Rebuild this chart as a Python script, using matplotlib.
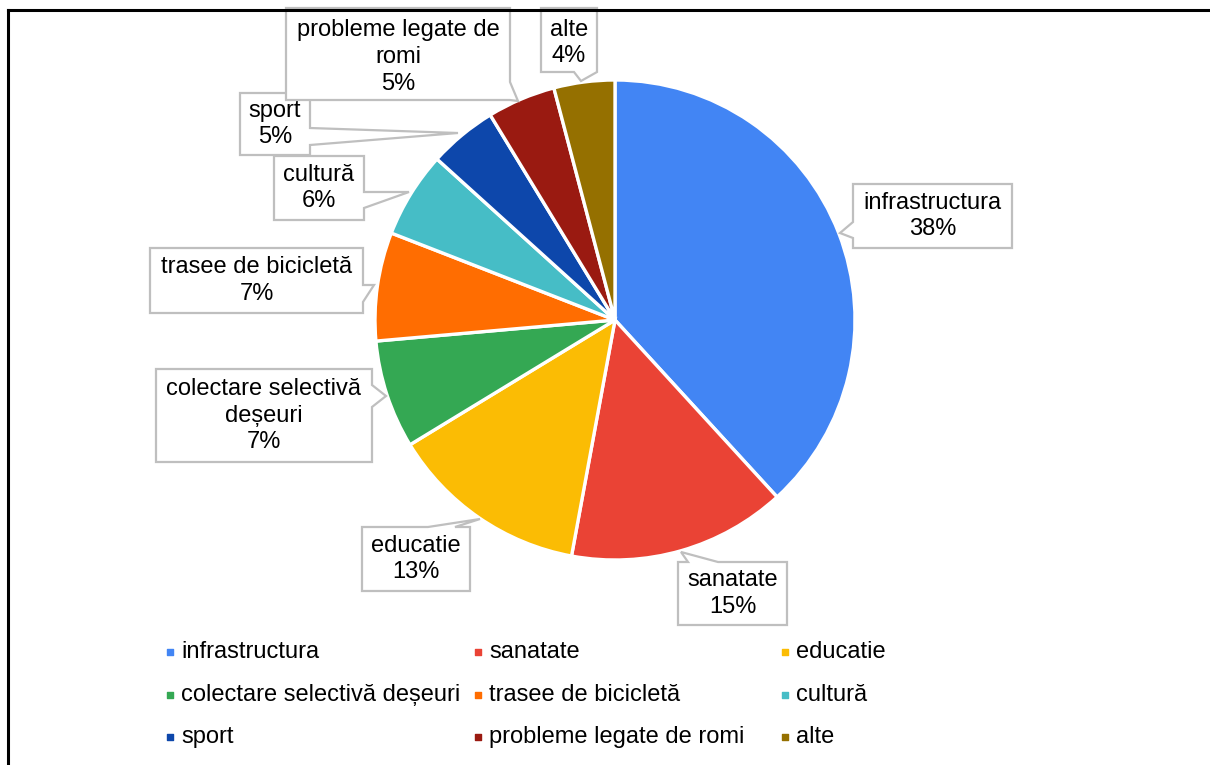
import numpy as np
import matplotlib.pyplot as plt
from matplotlib.patches import Polygon

plt.rcParams['font.family'] = ['Liberation Sans', 'DejaVu Sans']

categories = ["infrastructura", "sanatate", "educatie",
              "colectare selectivă deșeuri", "trasee de bicicletă", "cultură",
              "sport", "probleme legate de romi", "alte"]
box_labels = ["infrastructura", "sanatate", "educatie",
              "colectare selectivă\ndeșeuri", "trasee de bicicletă", "cultură",
              "sport", "probleme legate de\nromi", "alte"]
values = [38.2, 14.7, 13.4, 7.3, 7.3, 5.8, 4.6, 4.6, 4.1]
colors = ["#4285F4", "#EA4335", "#FBBC04", "#34A853", "#FF6D01", "#46BDC6",
          "#0D47AB", "#9A1A11", "#957000"]

W, H = 1210, 765
FS = 17
EDGE = "#BFBFBF"

# callout layout, pixel coords (y down): box, side of pointer, base span, tip, text centre y
callouts = [
    ((853, 184, 1012, 248), "left", (222, 238), (840, 233), None),
    ((678, 562, 787, 625), "top", (688, 718), (681, 552), None),
    ((362, 527, 470, 591), "top", (428, 455), (480, 519), None),
    ((156, 369, 372, 462), "right", (385, 407), (386, 396), None),
    ((150, 248, 363, 313), "right", (285, 302), (374, 285), None),
    ((274, 156, 364, 220), "right", (192, 208), (409, 192), None),
    ((240, 93, 310, 155), "right", (128, 145), (458, 133), None),
    ((286, 8, 510, 100), "right", (82, 100), (518, 101), 57),
    ((541, 8, 597, 72), "bottom", (574, 597), (581, 81), 43),
]


def Y(y):
    return H - y


def callout_shape(box, side, base, tip):
    x0, y0, x1, y1 = box
    a, b = base
    pts = [(x0, y0)]
    if side == "top":
        pts += [(a, y0), tip, (b, y0)]
    pts += [(x1, y0)]
    if side == "right":
        pts += [(x1, a), tip, (x1, b)]
    pts += [(x1, y1)]
    if side == "bottom":
        pts += [(b, y1), tip, (a, y1)]
    pts += [(x0, y1)]
    if side == "left":
        pts += [(x0, b), tip, (x0, a)]
    return [(px, Y(py)) for px, py in pts]


fig = plt.figure(figsize=(W / 100, H / 100), dpi=100)
ax = fig.add_axes([0, 0, 1, 1])

ax.pie(values, colors=colors, startangle=90, counterclock=False,
       center=(615, Y(320)), radius=240,
       wedgeprops=dict(edgecolor="white", linewidth=2.4))

pcts = np.floor(np.array(values) / sum(values) * 100 + 0.5).astype(int)
for (box, side, base, tip, ty), lab, p in zip(callouts, box_labels, pcts):
    ax.add_patch(Polygon(callout_shape(box, side, base, tip), closed=True,
                         facecolor="white", edgecolor=EDGE, lw=1.6,
                         joinstyle="miter", zorder=3))
    cx = (box[0] + box[2]) / 2
    cy = ty if ty is not None else (box[1] + box[3]) / 2
    ax.text(cx, Y(cy), f"{lab}\n{p}%", ha="center", va="center",
            fontsize=FS, linespacing=1.28, color="black", zorder=4)

# legend, 3 per row
col_x = [170, 478, 785]
row_y = [652, 695, 737]
for i, (cat, c) in enumerate(zip(categories, colors)):
    r, k = divmod(i, 3)
    ax.scatter([col_x[k]], [Y(row_y[r])], marker="s", s=18, color=c, zorder=3)
    ax.text(col_x[k] + 11, Y(row_y[r]), cat, ha="left", va="center",
            fontsize=FS, color="black")

# outer frame
ax.plot([8, 8], [Y(H + 5), Y(9.5)], color="black", lw=2.2, solid_capstyle="projecting", zorder=5)
ax.plot([8, W + 5], [Y(9.5), Y(9.5)], color="black", lw=2.2, solid_capstyle="projecting", zorder=5)

ax.set_xlim(0, W)
ax.set_ylim(0, H)
ax.set_aspect("auto")
ax.axis("off")

fig.savefig("out.png", dpi=100, facecolor="white")
